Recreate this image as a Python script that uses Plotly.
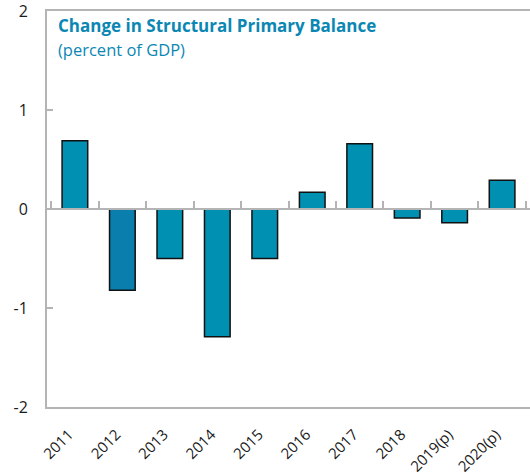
import plotly.graph_objects as go

# Change in structural primary balance, percent of GDP
years = ["2011", "2012", "2013", "2014", "2015", "2016", "2017", "2018", "2019(p)", "2020(p)"]
change = [0.69, -0.82, -0.50, -1.29, -0.50, 0.17, 0.66, -0.09, -0.14, 0.29]
bar_colors = ["#0090b2", "#0a7fae", "#0090b2", "#0090b2", "#0090b2",
              "#0090b2", "#0090b2", "#0090b2", "#0090b2", "#0090b2"]

y_ticks = [2, 1, 0, -1, -2]
title_text = "Change in Structural Primary Balance"
subtitle_text = "(percent of GDP)"

axis_grey = "#b4b4b4"
title_blue = "#0b87b4"
font_family = "Open Sans"

fig = go.Figure()

fig.add_trace(go.Bar(
    x=years, y=change,
    marker=dict(color=bar_colors, line=dict(color="#111111", width=1.5)),
    xaxis="x", yaxis="y",
    hoverinfo="x+y",
))

# invisible companion traces so the zero-line axis and the top frame axis are drawn
for ax in ("x2", "x3"):
    fig.add_trace(go.Scatter(
        x=years, y=[0] * len(years), mode="markers",
        marker=dict(opacity=0), xaxis=ax, yaxis="y",
        hoverinfo="skip", showlegend=False,
    ))

fig.update_layout(
    width=530, height=476,
    margin=dict(l=47, r=0, t=8, b=66),
    paper_bgcolor="white", plot_bgcolor="white",
    showlegend=False,
    bargap=0.46,
    font=dict(family=font_family, color="#1a1a1a"),
    xaxis=dict(
        type="category", categoryorder="array", categoryarray=years,
        showgrid=False, zeroline=False,
        showline=True, linecolor=axis_grey, linewidth=2,
        ticks="", tickangle=-45, ticklabelstandoff=11, ticklabelshift=-6,
        tickfont=dict(size=15, family=font_family, color="#1a1a1a"),
    ),
    xaxis2=dict(
        type="category", categoryorder="array", categoryarray=years,
        overlaying="x", matches="x", anchor="free", position=0.5,
        showgrid=False, zeroline=False,
        showline=True, linecolor=axis_grey, linewidth=2,
        ticks="inside", tickson="boundaries", ticklen=7, tickwidth=2,
        tickcolor=axis_grey, showticklabels=False,
    ),
    xaxis3=dict(
        type="category", categoryorder="array", categoryarray=years,
        overlaying="x", matches="x", side="top", anchor="y",
        showgrid=False, zeroline=False,
        showline=True, linecolor=axis_grey, linewidth=2,
        ticks="", showticklabels=False,
    ),
    yaxis=dict(
        range=[-2, 2], tickvals=y_ticks, ticktext=[str(v) for v in y_ticks],
        showgrid=False, zeroline=False,
        showline=True, linecolor=axis_grey, linewidth=2,
        ticks="inside", ticklen=6, tickwidth=2, tickcolor=axis_grey,
        ticklabelstandoff=14, ticklabeloverflow="allow",
        tickfont=dict(size=16, family=font_family, color="#1a1a1a"),
    ),
    annotations=[
        dict(
            text="<b>" + title_text + "</b>",
            xref="paper", yref="paper", x=0.019, y=0.998,
            xanchor="left", yanchor="top", showarrow=False,
            font=dict(size=17, color=title_blue, family=font_family),
        ),
        dict(
            text=subtitle_text,
            xref="paper", yref="paper", x=0.019, y=0.937,
            xanchor="left", yanchor="top", showarrow=False,
            font=dict(size=16.5, color=title_blue, family=font_family),
        ),
    ],
)

fig.write_html("out.html")
